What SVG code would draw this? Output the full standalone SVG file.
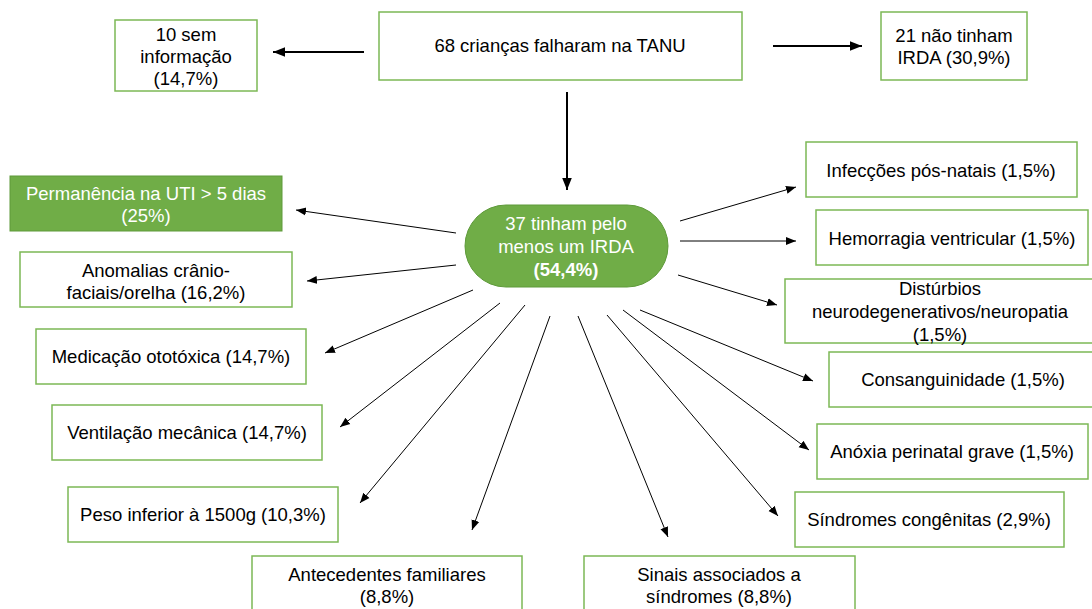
<svg xmlns="http://www.w3.org/2000/svg" width="1092" height="609" viewBox="0 0 1092 609">
<style>
.box{fill:#fff;stroke:#7cb855;stroke-width:1.5}
.gbox{fill:#70ad47;stroke:#5e9a3a;stroke-width:1}
text{font-family:"Liberation Sans",Arial,sans-serif;font-size:18.5px;fill:#000;text-anchor:middle}
.w{fill:#fff}
.c{stroke:#000;stroke-width:1;fill:none}
.t{stroke:#000;stroke-width:2;fill:none}
</style>
<defs>
<marker id="ah" viewBox="0 0 10 10" refX="10" refY="5" markerWidth="10" markerHeight="10" markerUnits="userSpaceOnUse" orient="auto">
<path d="M0,1 L10,5 L0,9 Z" fill="#000"/>
</marker>
<marker id="ah2" viewBox="0 0 10 10" refX="10" refY="5" markerWidth="6" markerHeight="6" orient="auto">
<path d="M0,1 L10,5 L0,9 Z" fill="#000"/>
</marker>
</defs>
<g id="connectors">
<line class="t" x1="364" y1="52" x2="273" y2="52" marker-end="url(#ah2)"/>
<line class="t" x1="773" y1="46" x2="862" y2="46" marker-end="url(#ah2)"/>
<line class="t" x1="567" y1="92" x2="567" y2="190" marker-end="url(#ah2)"/>
<line class="c" x1="456" y1="233" x2="296" y2="210" marker-end="url(#ah)"/>
<line class="c" x1="456" y1="265" x2="307" y2="281" marker-end="url(#ah)"/>
<line class="c" x1="473" y1="290" x2="325" y2="353" marker-end="url(#ah)"/>
<line class="c" x1="500" y1="303" x2="340" y2="427" marker-end="url(#ah)"/>
<line class="c" x1="525" y1="305" x2="360" y2="503" marker-end="url(#ah)"/>
<line class="c" x1="550" y1="316" x2="472" y2="530" marker-end="url(#ah)"/>
<line class="c" x1="578" y1="316" x2="668" y2="537" marker-end="url(#ah)"/>
<line class="c" x1="607" y1="315" x2="778" y2="516" marker-end="url(#ah)"/>
<line class="c" x1="623" y1="310" x2="809" y2="450" marker-end="url(#ah)"/>
<line class="c" x1="640" y1="310" x2="813" y2="381" marker-end="url(#ah)"/>
<line class="c" x1="678" y1="275" x2="777" y2="305" marker-end="url(#ah)"/>
<line class="c" x1="680" y1="241" x2="796" y2="241" marker-end="url(#ah)"/>
<line class="c" x1="680" y1="221" x2="796" y2="187" marker-end="url(#ah)"/>
</g>
<g id="n-sem-info">
<rect class="box" x="115" y="20" width="142" height="71"/>
<text x="186" y="41">10 sem</text>
<text x="186" y="63">informação</text>
<text x="186" y="85">(14,7%)</text>
</g>
<g id="n-68">
<rect class="box" x="379" y="12" width="363" height="68"/>
<text x="560" y="52">68 crianças falharam na TANU</text>
</g>
<g id="n-21">
<rect class="box" x="881" y="12" width="146" height="68"/>
<text x="954" y="42">21 não tinham</text>
<text x="954" y="64">IRDA (30,9%)</text>
</g>
<g id="n-37">
<rect class="gbox" x="465" y="205" width="203" height="82" rx="41" ry="41"/>
<text class="w" x="566" y="230">37 tinham pelo</text>
<text class="w" x="566" y="253">menos um IRDA</text>
<text class="w" x="566" y="276" font-weight="bold">(54,4%)</text>
</g>
<g id="n-uti">
<rect class="gbox" x="10" y="176" width="272" height="55"/>
<text class="w" x="146" y="200">Permanência na UTI &gt; 5 dias</text>
<text class="w" x="146" y="222">(25%)</text>
</g>
<g id="n-anomalias">
<rect class="box" x="20" y="252" width="272" height="55"/>
<text x="156" y="277">Anomalias crânio-</text>
<text x="156" y="299">faciais/orelha (16,2%)</text>
</g>
<g id="n-medicacao">
<rect class="box" x="36" y="329" width="270" height="55"/>
<text x="171" y="363">Medicação ototóxica (14,7%)</text>
</g>
<g id="n-ventilacao">
<rect class="box" x="52" y="405" width="270" height="55"/>
<text x="187" y="439">Ventilação mecânica (14,7%)</text>
</g>
<g id="n-peso">
<rect class="box" x="68" y="487" width="270" height="55"/>
<text x="203" y="521">Peso inferior à 1500g (10,3%)</text>
</g>
<g id="n-antecedentes">
<rect class="box" x="252" y="556" width="270" height="60"/>
<text x="387" y="581">Antecedentes familiares</text>
<text x="387" y="603">(8,8%)</text>
</g>
<g id="n-sinais">
<rect class="box" x="584" y="556" width="271" height="60"/>
<text x="719" y="581">Sinais associados a</text>
<text x="719" y="603">síndromes (8,8%)</text>
</g>
<g id="n-sindromes">
<rect class="box" x="795" y="492" width="269" height="55"/>
<text x="929" y="526">Síndromes congênitas (2,9%)</text>
</g>
<g id="n-anoxia">
<rect class="box" x="817" y="424" width="271" height="55"/>
<text x="952" y="458">Anóxia perinatal grave (1,5%)</text>
</g>
<g id="n-consanguinidade">
<rect class="box" x="829" y="352" width="270" height="55"/>
<text x="963" y="386">Consanguinidade (1,5%)</text>
</g>
<g id="n-disturbios">
<rect class="box" x="785" y="279" width="310" height="64"/>
<text x="940" y="295">Distúrbios</text>
<text x="940" y="318">neurodegenerativos/neuropatia</text>
<text x="940" y="341">(1,5%)</text>
</g>
<g id="n-hemorragia">
<rect class="box" x="816" y="210" width="272" height="55"/>
<text x="952" y="245">Hemorragia ventricular (1,5%)</text>
</g>
<g id="n-infeccoes">
<rect class="box" x="806" y="142" width="271" height="55"/>
<text x="941" y="177">Infecções pós-natais (1,5%)</text>
</g>
</svg>
